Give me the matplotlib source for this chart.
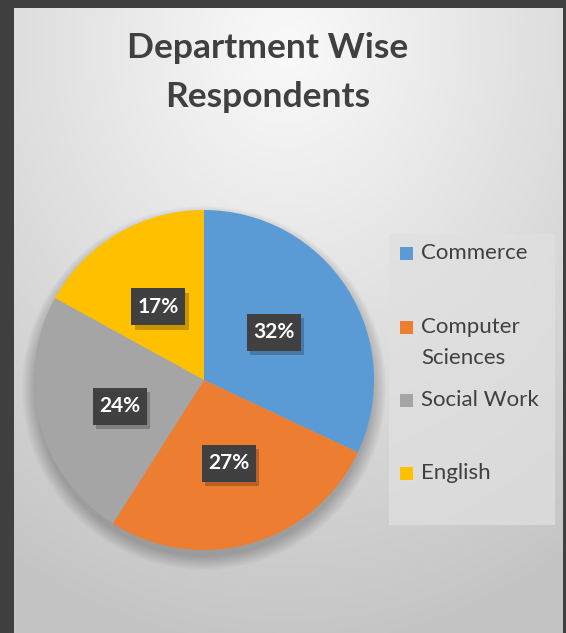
import numpy as np
import matplotlib
matplotlib.use("Agg")
import matplotlib.pyplot as plt
from matplotlib.patches import Rectangle

plt.rcParams['font.family'] = ['Lato', 'DejaVu Sans']

categories = ["Commerce", "Computer Sciences", "Social Work", "English"]
legend_labels = ["Commerce", "Computer\nSciences", "Social Work", "English"]
values = [32, 27, 24, 17]
colors = ["#5B9BD5", "#ED7D31", "#A5A5A5", "#FFC000"]
title_lines = ["Department Wise", "Respondents"]

W, H = 566, 633
fig = plt.figure(figsize=(W / 100, H / 100), dpi=100)

# background: dark frame + radial gradient panel
bg = fig.add_axes([0, 0, 1, 1])
bg.axis("off")
bg.add_patch(Rectangle((0, 0), W, H, color="#404040", zorder=0))
yy, xx = np.mgrid[0:H, 0:W]
d = np.sqrt(((xx - 280) / 560.0) ** 2 + ((yy - 40) / 640.0) ** 2)
g = np.clip(0.98 - 0.22 * d, 0.77, 0.98)
img = np.dstack([g, g, g])
bg.imshow(img, extent=(14, 563, H, 8), zorder=1, aspect="auto",
          interpolation="bilinear")
bg.set_xlim(0, W)
bg.set_ylim(H, 0)

# soft shadow below pie
for i in range(12):
    rr = 182 - i * 1.2
    bg.add_patch(plt.Circle((204, 388), rr, color="black", alpha=0.018,
                            zorder=2, lw=0))

# legend box
bg.add_patch(Rectangle((389, 234), 166, 291, color="#E0E0E0", alpha=0.75,
                       zorder=2, lw=0))

# title
for line, y in zip(title_lines, [48, 97]):
    bg.text(268, y, line, ha="center", va="center", fontsize=25.5,
            fontweight="bold", color="#404040", zorder=5)

# pie axes: center (204,380) radius 170
cx, cy, r = 204, 380, 170
ax = fig.add_axes([(cx - r) / W, 1 - (cy + r) / H, 2 * r / W, 2 * r / H])
ax.set_zorder(3)
ax.patch.set_alpha(0)
wedges, texts = ax.pie(values, colors=colors, startangle=90, counterclock=False,
                       radius=1.0, wedgeprops=dict(linewidth=0))
ax.set_xlim(-1, 1)
ax.set_ylim(-1, 1)
ax.set_aspect("auto")

# data labels (boxes drawn as patches, in pie-axis units)
label_pos = [(0.41, 0.28), (0.145, -0.49), (-0.495, -0.155), (-0.27, 0.43)]
bw, bh = 54 / r, 37 / r
for v, (lx, ly) in zip(values, label_pos):
    ax.add_patch(Rectangle((lx - bw / 2 + 0.02, ly - bh / 2 - 0.025), bw, bh,
                           fc="black", ec="none", alpha=0.22, zorder=4))
    ax.add_patch(Rectangle((lx - bw / 2, ly - bh / 2), bw, bh,
                           fc="#404040", ec="none", zorder=5))
    ax.text(lx, ly, f"{v}%", ha="center", va="center", fontsize=15,
            fontweight="bold", color="white", zorder=6)

# legend entries
leg_y = [253, 327, 400, 473]
for lab, col, y in zip(legend_labels, colors, leg_y):
    bg.add_patch(Rectangle((400, y - 6), 13, 13, color=col, zorder=6, lw=0))
    for k, part in enumerate(lab.split("\n")):
        bg.text(421, y + 31 * k, part, ha="left", va="center", fontsize=16,
                color="#404040", zorder=6)

fig.savefig("out.png", dpi=100)
